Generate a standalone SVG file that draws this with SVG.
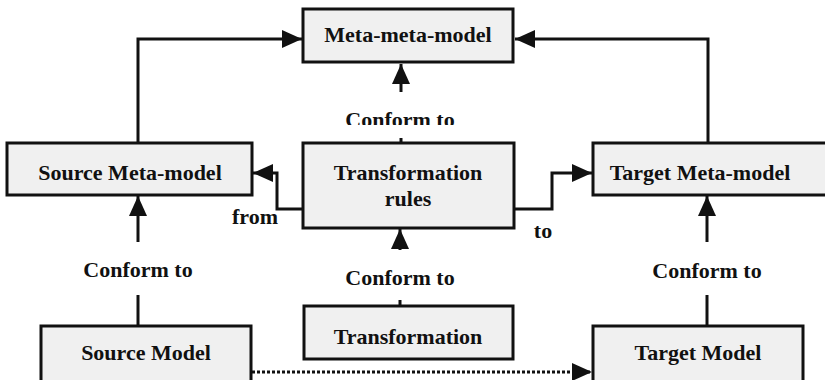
<svg xmlns="http://www.w3.org/2000/svg" width="825" height="380" viewBox="0 0 825 380">
  <style>
    .box { fill: #f0f0f0; stroke: #111; stroke-width: 3; }
    text { font-family: "Liberation Serif", Tinos, "Times New Roman", Times, "DejaVu Serif", serif; font-weight: bold; font-size: 22px; fill: #111; text-anchor: middle; }
    .edge { fill: none; stroke: #111; stroke-width: 3; }
    .dotted { fill: none; stroke: #111; stroke-width: 3; stroke-dasharray: 3 2; }
  </style>
  <defs>
    <marker id="arrow" markerUnits="userSpaceOnUse" markerWidth="22" markerHeight="18" refX="20" refY="9" orient="auto">
      <path d="M0,0 L20,9 L0,18 Z" fill="#111"/>
    </marker>
    <clipPath id="labelClip">
      <rect x="300" y="95" width="220" height="30"/>
    </clipPath>
  </defs>
  <rect width="825" height="380" fill="#ffffff"/>

  <!-- connectors -->
  <g id="connectors">
    <!-- meta-models to meta-meta-model -->
    <path class="edge" d="M138,143 V39 H302" marker-end="url(#arrow)"/>
    <path class="edge" d="M708,143 V39 H515" marker-end="url(#arrow)"/>
    <!-- transformation rules conform to meta-meta-model -->
    <path class="edge" d="M401,92 V64" marker-end="url(#arrow)"/>
    <path class="edge" d="M401,138 V143"/>
    <text x="400" y="127" clip-path="url(#labelClip)">Conform to</text>
    <!-- from / to -->
    <path class="edge" d="M303,209 H277 V173 H253" marker-end="url(#arrow)"/>
    <text x="255" y="224">from</text>
    <path class="edge" d="M514,209 H552 V173 H592" marker-end="url(#arrow)"/>
    <text x="543" y="238">to</text>
    <!-- source model conform to source meta-model -->
    <path class="edge" d="M138,242 V196" marker-end="url(#arrow)"/>
    <path class="edge" d="M138,295 V326"/>
    <text x="138" y="277">Conform to</text>
    <!-- target model conform to target meta-model -->
    <path class="edge" d="M707,242 V196" marker-end="url(#arrow)"/>
    <path class="edge" d="M707,295 V326"/>
    <text x="707" y="278">Conform to</text>
    <!-- transformation conform to transformation rules -->
    <path class="edge" d="M400,250 V229" marker-end="url(#arrow)"/>
    <path class="edge" d="M400,300 V306"/>
    <text x="400" y="285">Conform to</text>
    <!-- source model to target model -->
    <path class="dotted" d="M252,372 H592" marker-end="url(#arrow)"/>
  </g>

  <g id="meta-meta-model">
    <rect class="box" x="303" y="9" width="210" height="53"/>
    <text x="408" y="42">Meta-meta-model</text>
  </g>
  <g id="source-meta-model">
    <rect class="box" x="7" y="143" width="245" height="52"/>
    <text x="130" y="180">Source Meta-model</text>
  </g>
  <g id="transformation-rules">
    <rect class="box" x="303" y="143" width="211" height="85"/>
    <text x="408" y="180">Transformation</text>
    <text x="408" y="206">rules</text>
  </g>
  <g id="target-meta-model">
    <rect class="box" x="593" y="143" width="240" height="52"/>
    <text x="700" y="180">Target Meta-model</text>
  </g>
  <g id="source-model">
    <rect class="box" x="41" y="326" width="210" height="60"/>
    <text x="146" y="360">Source Model</text>
  </g>
  <g id="transformation">
    <rect class="box" x="304" y="306" width="209" height="53"/>
    <text x="408" y="344">Transformation</text>
  </g>
  <g id="target-model">
    <rect class="box" x="593" y="326" width="210" height="60"/>
    <text x="698" y="360">Target Model</text>
  </g>
</svg>
